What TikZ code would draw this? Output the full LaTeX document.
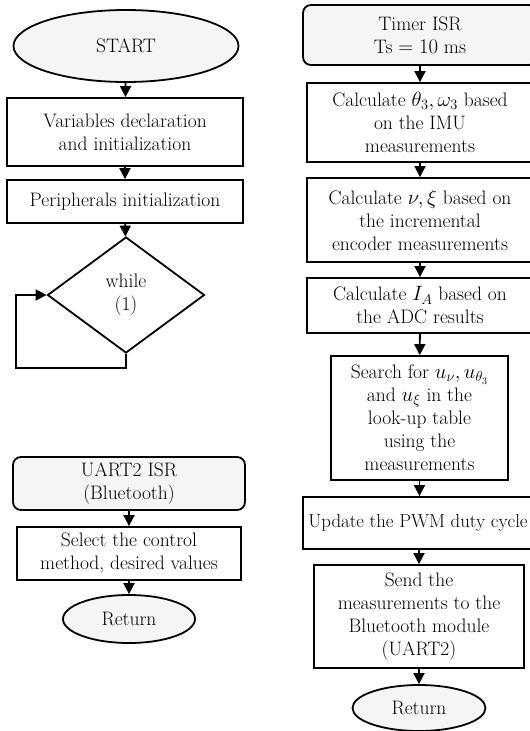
\documentclass[tikz,border=0pt]{standalone}
\usepackage{amsmath,amssymb}
\usepackage{fontspec}
\usetikzlibrary{shapes.geometric,arrows.meta}

\begin{document}
\begin{tikzpicture}[x=1pt,y=-1pt,line width=1.8pt,
	every node/.style={font=\fontsize{19.5}{23}\selectfont,align=center,inner sep=1pt},
	term/.style={draw,ellipse,fill=gray!8},
	isr/.style={draw,rectangle,rounded corners=8pt,fill=gray!8},
	proc/.style={draw,rectangle},
	cond/.style={draw,diamond},
	flow/.style={-{Triangle[length=11pt,width=11pt]}}]
		\useasboundingbox (0,0) rectangle (530,731);
		% main program
		\node[term,minimum width=225pt,minimum height=72pt] (start) at (126,46) {START};
		\node[proc,minimum width=236pt,minimum height=68pt] (vars) at (125,132) {Variables declaration\\and initialization};
		\node[proc,minimum width=236pt,minimum height=43pt] (peri) at (125,201.5) {Peripherals initialization};
		\node[cond,minimum width=157pt,minimum height=116pt,inner sep=0pt] (loop) at (126,295) {while\\(1)};
		\coordinate (lpa) at (126,368);
		\coordinate (lpb) at (16,368);
		\draw[flow] (start) -- (vars);
		\draw[flow] (vars) -- (peri);
		\draw[flow] (peri) -- (loop);
		\draw[flow] (loop.south) -- (lpa) -- (lpb) |- (loop.west);
		% bluetooth interrupt
		\node[isr,minimum width=232pt,minimum height=53pt] (uart) at (129,483.5) {UART2 ISR\\(Bluetooth)};
		\node[proc,minimum width=224pt,minimum height=53pt] (sel) at (129,553.5) {Select the control\\method, desired values};
		\node[term,minimum width=132pt,minimum height=48pt] (ret1) at (129,619) {Return};
		\draw[flow] (uart) -- (sel);
		\draw[flow] (sel) -- (ret1);
		% timer interrupt
		\node[isr,minimum width=234pt,minimum height=60pt] (timer) at (420,35) {Timer ISR\\Ts $=10$ ms};
		\node[proc,minimum width=226pt,minimum height=79pt] (imu) at (420,122.5) {Calculate $\theta_3,\omega_3$ based\\on the IMU\\measurements};
		\node[proc,minimum width=226pt,minimum height=84pt] (enc) at (420,220) {Calculate $\nu,\xi$ based on\\the incremental\\encoder measurements};
		\node[proc,minimum width=226pt,minimum height=55pt] (adc) at (420,305.5) {Calculate $I_A$ based on\\the ADC results};
		\node[proc,minimum width=177pt,minimum height=124pt] (lut) at (419.5,418) {Search for $u_\nu,u_{\theta_3}$\\and $u_\xi$ in the\\look-up table\\using the\\measurements};
		\node[proc,minimum width=230pt,minimum height=52pt,font=\fontsize{18.8}{23}\selectfont] (pwm) at (418,523) {Update the PWM duty cycle};
		\node[proc,minimum width=210pt,minimum height=103pt] (send) at (419,616.5) {Send the\\measurements to the\\Bluetooth module\\(UART2)};
		\node[term,minimum width=133pt,minimum height=46pt] (ret2) at (419,708) {Return};
		\draw[flow] (timer) -- (imu);
		\draw[flow] (imu) -- (enc);
		\draw[flow] (enc) -- (adc);
		\draw[flow] (adc) -- (lut);
		\draw[flow] (lut) -- (lut|-pwm.north);
		\draw[flow] (pwm.south-|send) -- (send);
		\draw[flow] (send) -- (ret2);
	\end{tikzpicture}
\end{document}
